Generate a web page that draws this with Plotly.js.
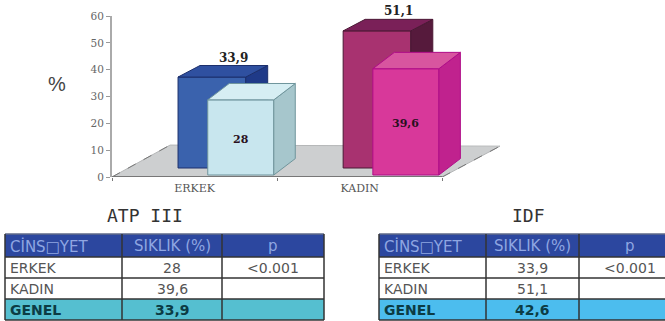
<!DOCTYPE html>
<html>
<head>
<meta charset="utf-8">
<script src="https://cdn.plot.ly/plotly-3.0.1.min.js"></script>
<style>html,body{margin:0;padding:0;background:#fff}#chart{width:665px;height:321px}</style>
</head>
<body>
<div id="chart"></div>
<script>
// Prevalence by sex under each definition
const sexes = ['ERKEK', 'KADIN'];
const idfValues = [33.9, 51.1];
const atpValues = [28, 39.6];
const idfLabels = ['33,9', '51,1'];
const atpLabels = ['28', '39,6'];

// Summary tables below the chart
const tableHeader = ['CİNS□YET', 'SIKLIK (%)', 'p'];
const atpRows = [['ERKEK', '28', '<0.001'], ['KADIN', '39,6', ''], ['GENEL', '33,9', '']];
const idfRows = [['ERKEK', '33,9', '<0.001'], ['KADIN', '51,1', ''], ['GENEL', '42,6', '']];

const W = 665, H = 321;
const px = x => x / W;
const py = y => 1 - y / H;

// Projection of the pseudo-3D bars: each row sits on its own strip of the floor
const backRow = {base: 3.35, offset: -0.1, width: 0.41, dx: 0.133, dy: 4.3};
const frontRow = {base: 0.75, offset: 0.08, width: 0.4, dx: 0.13, dy: 6.1};

const traces = [];

function addRow(values, row, colors, xaxis, yaxis) {
  traces.push({
    type: 'bar', x: [0, 1], y: values, base: values.map(() => row.base),
    width: row.width, offset: row.offset, xaxis, yaxis, hoverinfo: 'skip',
    marker: {color: colors.map(c => c.front), line: {color: colors.map(c => c.edge), width: 1}},
    showlegend: false
  });
  values.forEach((v, i) => {
    const l = i + row.offset, r = l + row.width, bottom = row.base, top = row.base + v;
    const face = (xs, ys, fill) => traces.push({
      type: 'scatter', mode: 'lines', x: xs, y: ys, fill: 'toself', fillcolor: fill,
      line: {color: colors[i].edge, width: 1}, xaxis, yaxis, hoverinfo: 'skip', showlegend: false
    });
    face([r, r + row.dx, r + row.dx, r, r],
         [bottom, bottom + row.dy, top + row.dy, top, bottom], colors[i].side);
    face([l, l + row.dx, r + row.dx, r, l],
         [top, top + row.dy, top + row.dy, top, top], colors[i].top);
  });
}

addRow(idfValues, backRow, [
  {front: '#3a62ad', top: '#2f50a0', side: '#1f3a88', edge: '#1c2f6c'},
  {front: '#a83270', top: '#7a2058', side: '#561a3c', edge: '#4a1834'}
], 'x', 'y');
addRow(atpValues, frontRow, [
  {front: '#c8e6ee', top: '#d6eef3', side: '#a6c6cc', edge: '#6f959c'},
  {front: '#d8389a', top: '#d8559f', side: '#c0228e', edge: '#b00c88'}
], 'x2', 'y2');

// Floor plane with its dashed side edges and the category baseline
const shapes = [
  {type: 'path', layer: 'below', xref: 'x', yref: 'y',
   path: 'M -0.5 0 L -0.148 11.9 L 1.85 11.5 L 1.5 0 Z',
   fillcolor: '#cdcfd0', line: {color: '#b5b7b8', width: 1}},
  {type: 'line', layer: 'below', xref: 'x', yref: 'y', x0: -0.5, y0: 0, x1: -0.148, y1: 11.9,
   line: {color: '#777', width: 1, dash: 'dash'}},
  {type: 'line', layer: 'below', xref: 'x', yref: 'y', x0: 1.5, y0: 0, x1: 1.85, y1: 11.5,
   line: {color: '#777', width: 1, dash: 'dash'}},
  {type: 'line', layer: 'below', xref: 'x', yref: 'y', x0: -0.5, y0: 0, x1: 1.5, y1: 0,
   line: {color: '#777', width: 2}}
];
const annotations = [];

function text(x, y, t, size, color, family, bold, anchor) {
  annotations.push({
    xref: 'paper', yref: 'paper', x: px(x), y: py(y), text: bold ? '<b>' + t + '</b>' : t,
    showarrow: false, xanchor: anchor || 'center', yanchor: 'middle',
    font: {size, color, family}, borderpad: 0
  });
}

// Value labels follow the bars through the axes
idfLabels.forEach((t, i) => annotations.push({
  xref: 'x', yref: 'y', x: i + backRow.offset + backRow.width / 2 + backRow.dx,
  y: backRow.base + idfValues[i] + backRow.dy, yshift: 8, text: '<b>' + t + '</b>', showarrow: false,
  font: {size: 12, color: '#222', family: 'DejaVu Serif'}
}));
atpLabels.forEach((t, i) => annotations.push({
  xref: 'x', yref: 'y', x: i + frontRow.offset + frontRow.width / 2,
  y: frontRow.base + atpValues[i] / 2, yshift: -2, text: '<b>' + t + '</b>', showarrow: false,
  font: {size: 11, color: '#2a1020', family: 'DejaVu Serif'}
}));

text(57, 84, '%', 20, '#444', 'Liberation Sans');
text(145, 215.5, 'ATP III', 18, '#333', 'DejaVu Sans Mono');
text(528, 215.5, 'IDF', 18, '#333', 'DejaVu Sans Mono');

// Draws one summary table from its rows; the accent colours the last line
function table(edges, rows, accent) {
  const lines = [234, 257, 278, 299, 320];
  const fills = ['#2c479f', '#ffffff', '#ffffff', accent];
  fills.forEach((fill, r) => shapes.push({
    type: 'rect', xref: 'paper', yref: 'paper', layer: 'below',
    x0: px(edges[0]), x1: px(edges[3]), y0: py(lines[r]), y1: py(lines[r + 1]),
    fillcolor: fill, line: {width: 0}
  }));
  lines.forEach((y, i) => shapes.push({
    type: 'line', xref: 'paper', yref: 'paper',
    x0: px(edges[0]), x1: px(edges[3]), y0: py(y), y1: py(y),
    line: {color: i === 0 ? '#5f6a8a' : '#333', width: 1.5}
  }));
  edges.forEach(x => shapes.push({
    type: 'line', xref: 'paper', yref: 'paper',
    x0: px(x), x1: px(x), y0: py(234), y1: py(320), line: {color: '#333', width: 1.5}
  }));
  const cx = c => (edges[c] + edges[c + 1]) / 2;
  tableHeader.forEach((t, c) => {
    if (c === 0) text(edges[0] + 4, 246, t, 15, '#8fa6e2', 'DejaVu Sans', false, 'left');
    else text(cx(c), 246, t, 15, '#8fa6e2', 'DejaVu Sans');
  });
  rows.forEach((row, r) => {
    const y = lines[r + 1] + 11, last = r === rows.length - 1;
    const color = last ? '#0c3c44' : '#555';
    row.forEach((t, c) => {
      if (!t) return;
      if (c === 0) text(edges[0] + 4, y, t, 14, color, 'DejaVu Sans', last, 'left');
      else text(cx(c), y, t, 14, color, 'DejaVu Sans', last);
    });
  });
}
table([5, 122, 222, 324], atpRows, '#55bfd0');
table([379, 486, 579, 680], idfRows, '#4cbdee');

// The x axis runs past the last category so the depth of the floor stays inside the plot area
const xRange = [-0.5, 1.85], yRange = [0, 60];
const xDomain = [px(112), px(500)], yDomain = [py(177), py(16)];
const layout = {
  width: W, height: H, margin: {l: 0, r: 0, t: 0, b: 0},
  paper_bgcolor: '#fff', plot_bgcolor: 'rgba(0,0,0,0)', showlegend: false, barmode: 'overlay',
  xaxis: {
    domain: xDomain, range: xRange, tickmode: 'array', tickvals: [0, 1], ticktext: sexes,
    ticks: '', showgrid: false, zeroline: false, showline: false, ticklabelstandoff: 3,
    tickfont: {size: 11, color: '#555', family: 'DejaVu Serif'},
    minor: {tickmode: 'array', tickvals: [-0.5, 0.5, 1.5], ticks: 'outside', ticklen: 3, tickcolor: '#777', showgrid: false}
  },
  yaxis: {
    domain: yDomain, range: yRange, tickmode: 'array', tickvals: [0, 10, 20, 30, 40, 50, 60],
    ticks: 'outside', ticklen: 4, tickcolor: '#999', showgrid: false, zeroline: false,
    showline: true, linecolor: '#aaa', linewidth: 2,
    tickfont: {size: 10.5, color: '#666', family: 'DejaVu Serif'}
  },
  xaxis2: {overlaying: 'x', domain: xDomain, range: xRange, visible: false},
  yaxis2: {overlaying: 'y', domain: yDomain, range: yRange, visible: false},
  shapes, annotations
};
Plotly.newPlot('chart', traces, layout, {displayModeBar: false, staticPlot: true});
</script>
</body>
</html>
